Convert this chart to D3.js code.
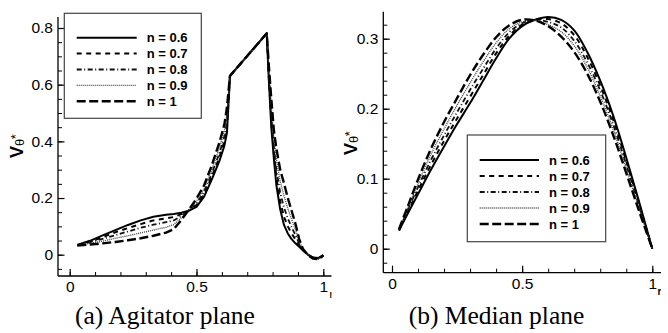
<!DOCTYPE html>
<html><head><meta charset="utf-8">
<script src="https://cdn.jsdelivr.net/npm/d3@7"></script>
<style>
html,body{margin:0;padding:0;background:#fff;}
svg{display:block;}
</style></head>
<body>
<svg id="c" width="668" height="333"></svg>
<script>
// ---------- DATA ----------
const seriesNames = ["n = 0.6", "n = 0.7", "n = 0.8", "n = 0.9", "n = 1"];

// (a) Agitator plane
const rAgit = [0.03,0.08,0.13,0.18,0.23,0.28,0.33,0.38,0.41,0.44,0.467,0.5,0.53,0.56,0.59,0.61,0.62,0.632,0.777,0.785,0.795,0.805,0.815,0.83,0.845,0.86,0.875,0.89,0.905,0.92,0.94,0.96,0.98,1.0];
const agit06 = [0.034,0.049,0.068,0.087,0.105,0.121,0.134,0.141,0.144,0.148,0.154,0.169,0.205,0.265,0.330,0.385,0.43,0.631,0.781,0.62,0.45,0.34,0.245,0.16,0.105,0.075,0.055,0.04,0.028,0.015,0.0,-0.01,-0.012,-0.001];
const agit07 = [0.034,0.046,0.062,0.079,0.094,0.108,0.121,0.128,0.133,0.143,0.154,0.175,0.213,0.275,0.343,0.400,0.448,0.631,0.781,0.63,0.47,0.36,0.271,0.188,0.134,0.10,0.075,0.054,0.033,0.016,0.0,-0.011,-0.013,-0.002];
const agit08 = [0.033,0.044,0.056,0.069,0.082,0.095,0.106,0.115,0.121,0.137,0.155,0.181,0.222,0.286,0.357,0.417,0.468,0.631,0.781,0.641,0.492,0.382,0.30,0.219,0.167,0.128,0.097,0.069,0.039,0.017,-0.001,-0.012,-0.014,-0.002];
const agit09 = [0.033,0.040,0.048,0.058,0.067,0.077,0.087,0.097,0.106,0.130,0.155,0.189,0.233,0.300,0.376,0.438,0.493,0.631,0.781,0.655,0.52,0.41,0.336,0.258,0.208,0.163,0.125,0.089,0.047,0.019,-0.001,-0.013,-0.015,-0.003];
const agit10 = [0.032,0.036,0.040,0.045,0.051,0.058,0.067,0.078,0.090,0.122,0.155,0.198,0.245,0.315,0.395,0.46,0.52,0.631,0.781,0.67,0.55,0.44,0.375,0.30,0.252,0.20,0.155,0.11,0.055,0.02,-0.002,-0.014,-0.016,-0.004];

// (b) Median plane
const rMed = [0.027,0.06,0.1,0.15,0.2,0.25,0.3,0.35,0.4,0.45,0.5,0.55,0.6,0.65,0.7,0.75,0.8,0.85,0.9,0.95,1.0];
const med06 = [0.026,0.050,0.078,0.113,0.146,0.178,0.208,0.240,0.272,0.300,0.318,0.327,0.331,0.327,0.312,0.281,0.240,0.190,0.130,0.066,0.0];
const med07 = [0.026,0.052,0.083,0.120,0.154,0.186,0.217,0.248,0.279,0.304,0.320,0.327,0.328,0.322,0.305,0.274,0.233,0.184,0.125,0.063,0.0];
const med08 = [0.027,0.055,0.088,0.127,0.162,0.195,0.227,0.257,0.286,0.309,0.322,0.327,0.324,0.316,0.297,0.266,0.226,0.177,0.120,0.060,0.0];
const med09 = [0.027,0.057,0.093,0.135,0.171,0.205,0.237,0.267,0.294,0.314,0.324,0.326,0.320,0.310,0.290,0.259,0.218,0.170,0.114,0.057,0.0];
const med10 = [0.028,0.060,0.099,0.143,0.181,0.215,0.248,0.277,0.302,0.319,0.327,0.326,0.318,0.303,0.281,0.250,0.210,0.162,0.108,0.053,0.0];

const agitTicksY = [0,0.2,0.4,0.6,0.8];
const medTicksY = [0,0.1,0.2,0.3];
const ticksX = [0,0.5,1];
const tickLabelsX = ["0","0.5","1"];

// ---------- STYLES ----------
const styles = [
  {dash:null, w:2.0, c:"#000"},
  {dash:"5,4.5", w:2.0, c:"#000"},
  {dash:"5,2.5,1,2.5", w:1.8, c:"#111"},
  {dash:"1,1", w:1.4, c:"#444"},
  {dash:"9,3.5", w:2.4, c:"#000"}
];

const svg = d3.select("#c");
const FONT = "Arial, 'Liberation Sans', sans-serif";

function panel(cfg){
  const g = svg.append("g");
  const clipId = "clip"+cfg.id;
  svg.append("defs").append("clipPath").attr("id", clipId)
    .append("rect").attr("x", cfg.clipX0).attr("y",0).attr("width", cfg.clipX1-cfg.clipX0).attr("height",333);
  const gc = g.attr("clip-path","url(#"+clipId+")");

  const x = d3.scaleLinear().domain([0,1]).range([cfg.x0, cfg.x1]);
  const y = d3.scaleLinear().domain(cfg.yDom).range(cfg.yRange);

  const yMinor = d3.range(cfg.yMinorStart, cfg.yMinorEnd + 1e-9, cfg.yMinorStep);
  const xMinor = d3.range(0, 1.0001, 0.1);
  gc.append("g").attr("transform","translate("+cfg.axX+",0)")
    .call(d3.axisLeft(y).tickValues(yMinor).tickSize(-4).tickFormat(""))
    .call(s=>s.select(".domain").remove())
    .call(s=>s.selectAll("line").attr("stroke","#000").attr("stroke-width",1));
  gc.append("g").attr("transform","translate(0,"+cfg.axY+")")
    .call(d3.axisBottom(x).tickValues(xMinor).tickSize(-4).tickFormat(""))
    .call(s=>s.select(".domain").remove())
    .call(s=>s.selectAll("line").attr("stroke","#000").attr("stroke-width",1));

  gc.append("g").attr("transform","translate("+cfg.axX+",0)")
    .call(d3.axisLeft(y).tickValues(cfg.yTicks).tickSize(-6.5).tickPadding(5).tickFormat(d=>d3.format("")(d)))
    .call(s=>s.select(".domain").remove())
    .call(s=>s.selectAll("line").attr("stroke","#000").attr("stroke-width",1.2))
    .call(s=>s.selectAll("text").attr("font-family",FONT).attr("font-size",15.5).attr("fill","#000"));
  gc.append("g").attr("transform","translate(0,"+cfg.axY+")")
    .call(d3.axisBottom(x).tickValues(ticksX).tickSize(-7).tickPadding(5).tickFormat((d,i)=>tickLabelsX[i]))
    .call(s=>s.select(".domain").remove())
    .call(s=>s.selectAll("line").attr("stroke","#000").attr("stroke-width",1.2))
    .call(s=>s.selectAll("text").attr("font-family",FONT).attr("font-size",15.5).attr("fill","#000"));

  gc.append("line").attr("x1",cfg.axX).attr("x2",cfg.axX).attr("y1",cfg.axTop).attr("y2",cfg.axY)
    .attr("stroke","#000").attr("stroke-width",1.3);
  gc.append("line").attr("x1",cfg.axX).attr("x2",cfg.axRight).attr("y1",cfg.axY).attr("y2",cfg.axY)
    .attr("stroke","#000").attr("stroke-width",1.3);

  gc.append("text").attr("x",cfg.rX).attr("y",cfg.axY+22).text("r")
    .attr("font-family",FONT).attr("font-weight","bold").attr("font-size",10).attr("fill","#000");

  const yt = gc.append("text").attr("transform","translate("+cfg.ytX+","+cfg.ytY+") rotate(-90)")
    .attr("text-anchor","middle").attr("font-family",FONT).attr("fill","#000");
  yt.append("tspan").text("V").attr("font-size",18).attr("font-weight","bold");
  yt.append("tspan").text("θ").attr("font-size",13).attr("dy",1);
  yt.append("tspan").text("*").attr("font-size",13).attr("dy",-4).attr("dx",-0.5);

  const line = d3.line().x(d=>x(d[0])).y(d=>y(d[1])).curve(cfg.curve);
  cfg.series.forEach((vals,i)=>{
    const pts = cfg.r.map((r,k)=>[r, vals[k]]);
    const st = styles[i];
    gc.append("path").datum(pts).attr("d",line).attr("fill","none")
      .attr("stroke",st.c).attr("stroke-width",st.w)
      .attr("stroke-dasharray",st.dash).attr("stroke-linejoin","round");
  });

  const L = cfg.legend;
  gc.append("rect").attr("x",L.x).attr("y",L.y).attr("width",L.w).attr("height",L.h)
    .attr("fill","#fff").attr("stroke","#444").attr("stroke-width",1.2);
  seriesNames.forEach((nm,i)=>{
    const yy = L.row0 + i*L.dy;
    const st = styles[i];
    gc.append("line").attr("x1",L.lx0).attr("x2",L.lx1).attr("y1",yy).attr("y2",yy)
      .attr("stroke",st.c).attr("stroke-width",st.w).attr("stroke-dasharray",st.dash);
    gc.append("text").attr("x",L.tx).attr("y",yy+4.5).text(nm)
      .attr("font-family",FONT).attr("font-weight","bold").attr("font-size",13).attr("fill","#000");
  });

  svg.append("text").attr("x",cfg.capX).attr("y",324).attr("text-anchor","middle").text(cfg.caption)
    .attr("font-family","'Times New Roman','Liberation Serif',serif").attr("font-size",25.5).attr("fill","#000");
}

panel({
  id:"a", clipX0:0, clipX1:331.5,
  x0:69.7, x1:323.3, yDom:[0,0.8], yRange:[254.7,28],
  axX:58, axY:276, axTop:17, axRight:332,
  yMinorStart:-0.05, yMinorEnd:0.8, yMinorStep:0.05,
  yTicks:agitTicksY, ytX:23, ytY:146, rX:329.5,
  r:rAgit, series:[agit06,agit07,agit08,agit09,agit10], curve:d3.curveLinear,
  legend:{x:64.3,y:13.3,w:137,h:105,row0:37.7,dy:15.9,lx0:76.7,lx1:136.7,tx:146.7},
  caption:"(a) Agitator plane", capX:165
});
panel({
  id:"b", clipX0:334, clipX1:661,
  x0:392, x1:652.3, yDom:[0,0.3], yRange:[248.7,38.7],
  axX:383.3, axY:272.7, axTop:11.7, axRight:662,
  yMinorStart:-0.02, yMinorEnd:0.32, yMinorStep:0.02,
  yTicks:medTicksY, ytX:357, ytY:143, rX:657.5,
  r:rMed, series:[med06,med07,med08,med09,med10], curve:d3.curveCatmullRom.alpha(0.5),
  legend:{x:467.3,y:135,w:138.4,h:106.7,row0:160,dy:16,lx0:479.7,lx1:539,tx:549},
  caption:"(b) Median plane", capX:496.5
});
</script>
</body></html>
